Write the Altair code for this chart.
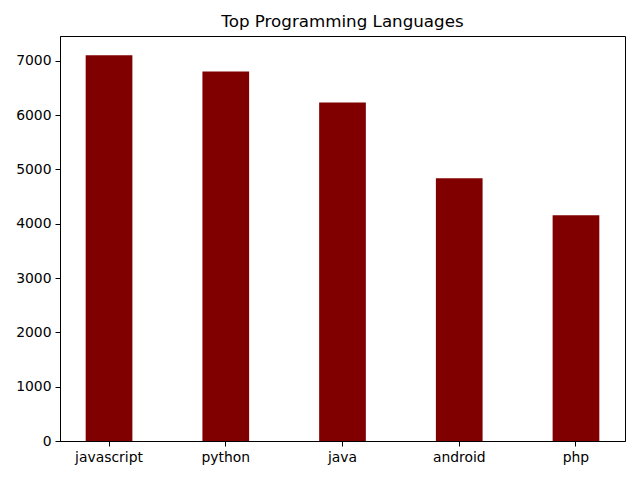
import altair as alt
import pandas as pd

languages = ["javascript", "python", "java", "android", "php"]
counts = [7100, 6800, 6232, 4836, 4155]
y_ticks = [0, 1000, 2000, 3000, 4000, 5000, 6000, 7000]

df = pd.DataFrame({"language": languages, "count": counts})

FONT = "DejaVu Sans"

chart = (
    alt.Chart(df, title=alt.Title("Top Programming Languages", fontSize=16.7, font=FONT,
                                  fontWeight="normal", color="black", offset=5,
                                  anchor="middle"))
    .mark_bar(color="#800000")
    .encode(
        x=alt.X("language:N", sort=languages, title=None,
                scale=alt.Scale(paddingInner=0.6, paddingOuter=0.22),
                axis=alt.Axis(labelAngle=0, labelFontSize=13.9, labelFont=FONT,
                              labelColor="black", tickColor="black", domainColor="black",
                              tickSize=5, labelPadding=4, domainWidth=1, tickWidth=1)),
        y=alt.Y("count:Q", title=None,
                scale=alt.Scale(domain=[0, 7455], nice=False, zero=True),
                axis=alt.Axis(values=y_ticks, format="d", grid=False, labelFontSize=13.9,
                              labelFont=FONT, labelColor="black", tickColor="black",
                              domainColor="black", tickSize=5, labelPadding=4,
                              domainWidth=1, tickWidth=1)),
    )
    .properties(width=565, height=405, autosize=alt.AutoSizeParams(type="none"),
                padding={"left": 52, "top": 28, "right": 6, "bottom": 30},
                view=alt.ViewBackground(stroke="#000000", strokeWidth=1, strokeOpacity=1,
                                        fill="white"))
    .configure(background="white")
)

chart.save("out.html", embed_options={"renderer": "svg", "actions": False})
